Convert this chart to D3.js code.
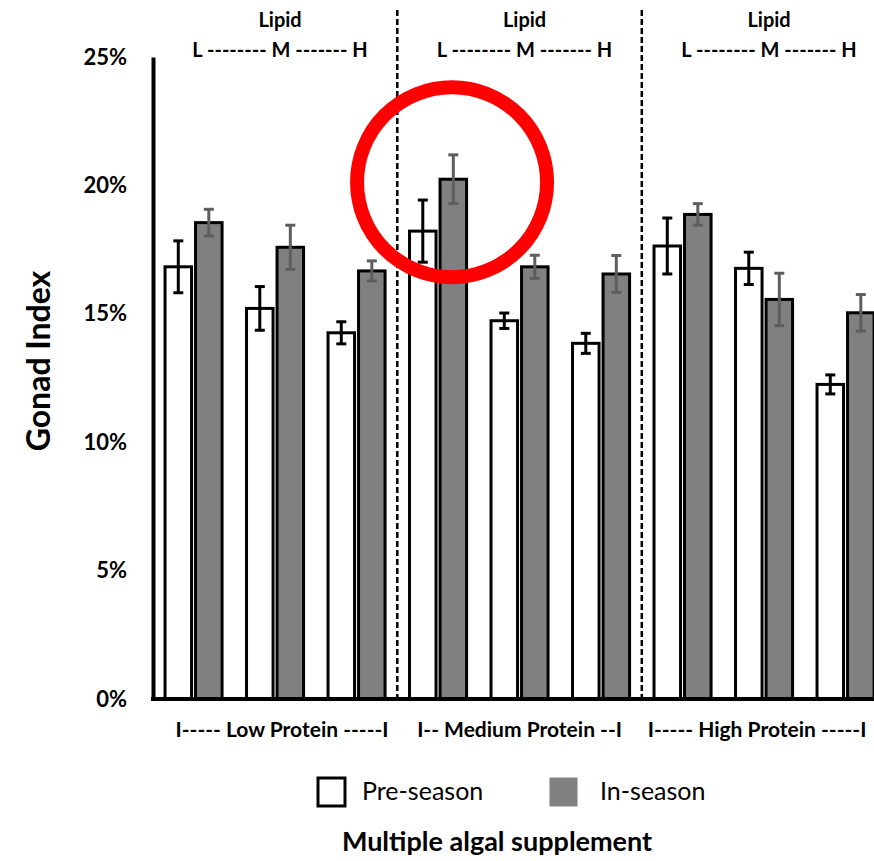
<!DOCTYPE html>
<html>
<head>
<meta charset="utf-8">
<script src="https://cdn.jsdelivr.net/npm/d3@7"></script>
<style>
  body { margin: 0; background: #fff; }
  svg { display: block; }
  text { font-family: Lato, "Open Sans", sans-serif; fill: #000; }
</style>
</head>
<body>
<svg id="chart" width="874" height="861"></svg>
<script>
// Gonad index (%) by protein level (groups) and lipid level (L / M / H within each group)
const proteinGroups = ["Low", "Medium", "High"];
const groupLabels = ["I----- Low Protein -----I", "I-- Medium Protein --I", "I----- High Protein -----I"];
const lipidLevels = ["L", "M", "H"];
const lipidHeader = "L -------- M ------- H";
const categories = ["Low-L", "Low-M", "Low-H", "Medium-L", "Medium-M", "Medium-H", "High-L", "High-M", "High-H"];
const seriesNames = ["Pre-season", "In-season"];
const preSeason    = [16.83, 15.21, 14.26, 18.22, 14.73, 13.85, 17.64, 16.77, 12.25];
const preSeasonErr = [1.01, 0.85, 0.43, 1.21, 0.30, 0.39, 1.09, 0.63, 0.37];
const inSeason     = [18.55, 17.59, 16.67, 20.24, 16.83, 16.55, 18.87, 15.56, 15.04];
const inSeasonErr  = [0.52, 0.86, 0.39, 0.95, 0.45, 0.72, 0.42, 1.02, 0.71];
const yTicks = [0, 5, 10, 15, 20, 25];
const highlighted = "Medium-L";

const svg = d3.select("#chart");
const W = 874, H = 861;
const plotTop = 57, plotBottom = 699, axisX = 153;

const y = d3.scaleLinear().domain([0, 25]).range([plotBottom, plotTop]);
const x = d3.scaleBand().domain(categories).range([152.8, 886.3]).paddingInner(0.3).paddingOuter(0.15);
const xs = d3.scaleBand().domain(seriesNames).range([0, x.bandwidth()]).paddingInner(0.131);

const colors = { "Pre-season": "#ffffff", "In-season": "#808080" };
const errColors = { "Pre-season": "#000000", "In-season": "#5e5e5e" };

const rows = categories.map((c, i) => ({
  cat: c,
  vals: [
    { s: "Pre-season", v: preSeason[i], e: preSeasonErr[i] },
    { s: "In-season", v: inSeason[i], e: inSeasonErr[i] }
  ]
}));

// group separators (dashed)
const seps = [2, 5].map(i => (x(categories[i]) + x.bandwidth() + x(categories[i + 1])) / 2);
svg.append("g").selectAll("line").data(seps).join("line")
  .attr("x1", d => d).attr("x2", d => d)
  .attr("y1", 10).attr("y2", plotBottom)
  .attr("stroke", "#000").attr("stroke-width", 2.5).attr("stroke-dasharray", "6,3");

// bars
const cg = svg.append("g").selectAll("g").data(rows).join("g")
  .attr("transform", d => `translate(${x(d.cat)},0)`);

cg.selectAll("rect").data(d => d.vals).join("rect")
  .attr("x", d => xs(d.s))
  .attr("y", d => y(d.v))
  .attr("width", xs.bandwidth())
  .attr("height", d => y(0) - y(d.v))
  .attr("fill", d => colors[d.s])
  .attr("stroke", "#000").attr("stroke-width", 3);

// error bars
const eb = cg.selectAll("g.err").data(d => d.vals).join("g").attr("class", "err")
  .attr("stroke", d => errColors[d.s]).attr("stroke-width", 3);
const cap = 5;
eb.append("line")
  .attr("x1", d => xs(d.s) + xs.bandwidth() / 2).attr("x2", d => xs(d.s) + xs.bandwidth() / 2)
  .attr("y1", d => y(d.v + d.e)).attr("y2", d => y(d.v - d.e));
eb.append("line")
  .attr("x1", d => xs(d.s) + xs.bandwidth() / 2 - cap).attr("x2", d => xs(d.s) + xs.bandwidth() / 2 + cap)
  .attr("y1", d => y(d.v + d.e)).attr("y2", d => y(d.v + d.e));
eb.append("line")
  .attr("x1", d => xs(d.s) + xs.bandwidth() / 2 - cap).attr("x2", d => xs(d.s) + xs.bandwidth() / 2 + cap)
  .attr("y1", d => y(d.v - d.e)).attr("y2", d => y(d.v - d.e));

// y axis
const yAxis = svg.append("g").attr("transform", `translate(${axisX},0)`)
  .call(d3.axisLeft(y).tickValues(yTicks).tickFormat(d => d + "%").tickSize(0).tickSizeOuter(0).tickPadding(26));
yAxis.select(".domain").attr("stroke", "#000").attr("stroke-width", 4);
yAxis.selectAll(".tick text")
  .style("font-family", "Lato, sans-serif").style("font-size", "22px").style("font-weight", "bold").attr("fill", "#000");

// x axis baseline
const xAxis = svg.append("g").attr("transform", `translate(0,${plotBottom})`)
  .call(d3.axisBottom(x).tickSize(0).tickSizeOuter(0).tickFormat(""));
xAxis.select(".domain").attr("stroke", "#000").attr("stroke-width", 4)
  .attr("d", `M${axisX - 2},0H${W}`);

// group headers and labels
const groupCenter = gi => x(categories[gi * 3 + 1]) + x.bandwidth() / 2;
const hdr = svg.append("g").selectAll("g").data(proteinGroups).join("g");
hdr.append("text")
  .attr("x", (d, i) => groupCenter(i) + 5).attr("y", 27)
  .attr("text-anchor", "middle").style("font-size", "20px").style("font-weight", "bold")
  .text("Lipid");
hdr.append("text")
  .attr("x", (d, i) => groupCenter(i) + 5).attr("y", 57)
  .attr("text-anchor", "middle").style("font-size", "20px").style("font-weight", "bold")
  .text(lipidHeader);
hdr.append("text")
  .attr("x", (d, i) => groupCenter(i) + [7, 0, -7][i]).attr("y", 737)
  .attr("text-anchor", "middle").style("font-size", "21px").style("font-weight", "bold")
  .text((d, i) => groupLabels[i]);

// y title
svg.append("text")
  .attr("transform", "translate(50,361) rotate(-90)")
  .attr("text-anchor", "middle").style("font-size", "32px").style("font-weight", "bold")
  .text("Gonad Index");

// x title
svg.append("text")
  .attr("x", 497).attr("y", 851)
  .attr("text-anchor", "middle").style("font-size", "27px").style("font-weight", "bold")
  .text("Multiple algal supplement");

// legend
const legend = svg.append("g");
const legendItems = [
  { s: "Pre-season", bx: 318, tx: 362 },
  { s: "In-season", bx: 550, tx: 600 }
];
legend.selectAll("rect").data(legendItems).join("rect")
  .attr("x", d => d.bx).attr("y", 778).attr("width", 27).attr("height", 28)
  .attr("fill", d => colors[d.s])
  .attr("stroke", d => d.s === "Pre-season" ? "#000" : colors[d.s])
  .attr("stroke-width", d => d.s === "Pre-season" ? 3 : 1);
legend.selectAll("text").data(legendItems).join("text")
  .attr("x", d => d.tx).attr("y", 800)
  .style("font-size", "25px")
  .text(d => d.s);

// highlight ring around the medium-protein, low-lipid pair
const hi = categories.indexOf(highlighted);
svg.append("circle")
  .attr("cx", x(highlighted) + x.bandwidth() / 2 + 14)
  .attr("cy", y(inSeason[hi]) + 3)
  .attr("r", 95)
  .attr("fill", "none").attr("stroke", "#ff0000").attr("stroke-width", 14);
</script>
</body>
</html>
